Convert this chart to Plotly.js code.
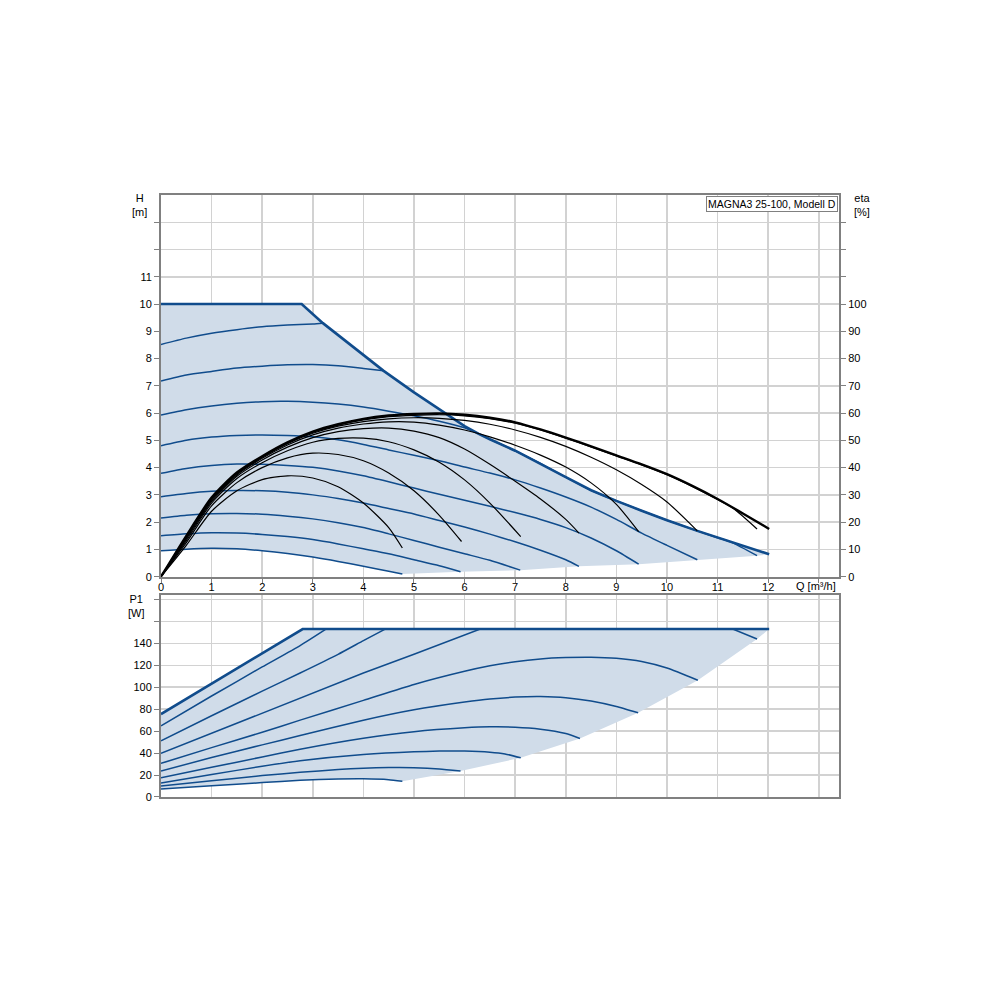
<!DOCTYPE html>
<html>
<head>
<meta charset="utf-8">
<script src="https://cdn.plot.ly/plotly-3.0.1.min.js"></script>
<style>html,body{margin:0;padding:0;background:#fff;}#chart{width:1000px;height:1000px;}</style>
</head>
<body>
<div id="chart"></div>
<script>
// ---------- Head diagram (H [m] vs Q [m3/h]) ----------
const envQ = [0, 2.78, 3.2, 3.6, 4.0, 4.4, 5.0, 5.5, 6.0, 6.28, 6.5, 7.0, 7.5, 8.0, 8.5, 9.0, 9.5, 10.0, 10.6, 11.0, 11.5, 12.02];
const envH = [10, 10, 9.3, 8.72, 8.15, 7.55, 6.76, 6.15, 5.52, 5.24, 5.04, 4.62, 4.15, 3.65, 3.17, 2.78, 2.42, 2.07, 1.68, 1.43, 1.12, 0.82];

const h1Q = [0, 0.5, 1, 1.5, 2, 2.5, 3, 3.5, 4, 4.5, 4.77];
const h1H = [0.95, 1.01, 1.04, 1.02, 0.95, 0.85, 0.72, 0.56, 0.38, 0.2, 0.1];
const h2Q = [0, 0.5, 1, 1.5, 2, 2.5, 3, 3.5, 4, 4.5, 5, 5.5, 5.92];
const h2H = [1.5, 1.57, 1.61, 1.6, 1.55, 1.47, 1.36, 1.2, 1.02, 0.84, 0.62, 0.4, 0.18];
const h3Q = [0, 0.5, 1, 1.5, 2, 2.5, 3, 3.5, 4, 4.5, 5, 5.5, 6, 6.5, 7.1];
const h3H = [2.15, 2.25, 2.31, 2.32, 2.29, 2.22, 2.12, 1.98, 1.8, 1.57, 1.33, 1.08, 0.84, 0.6, 0.24];
const h4Q = [0, 0.5, 1, 1.5, 2, 2.5, 3, 3.5, 4, 4.5, 5, 5.5, 6, 6.5, 7, 7.5, 8, 8.26];
const h4H = [2.93, 3.05, 3.13, 3.16, 3.15, 3.1, 3.0, 2.87, 2.7, 2.5, 2.3, 2.06, 1.82, 1.56, 1.28, 0.97, 0.62, 0.38];
const h5Q = [0, 0.5, 1, 1.5, 2, 2.5, 3, 3.5, 4, 4.5, 5, 5.5, 6, 6.5, 7, 7.5, 8, 8.5, 9, 9.44];
const h5H = [3.79, 3.97, 4.08, 4.13, 4.12, 4.08, 4.01, 3.88, 3.7, 3.48, 3.25, 3.02, 2.8, 2.58, 2.35, 2.1, 1.8, 1.42, 0.95, 0.46];
const h6Q = [0, 0.5, 1, 1.5, 2, 2.5, 3, 3.5, 4, 4.5, 5, 5.5, 6, 6.5, 7, 7.5, 8, 8.5, 9, 9.5, 10, 10.6];
const h6H = [4.8, 5.0, 5.12, 5.18, 5.2, 5.18, 5.13, 5.02, 4.85, 4.65, 4.45, 4.25, 4.02, 3.8, 3.55, 3.25, 2.92, 2.55, 2.1, 1.6, 1.15, 0.62];
const h7Q = [0, 0.5, 1, 1.5, 2, 2.5, 3, 3.5, 4, 4.5, 5, 5.5, 6, 6.28, 6.5, 7, 7.5, 8, 8.5, 9, 9.5, 10, 10.6, 11, 11.3, 11.78];
const h7H = [5.93, 6.12, 6.26, 6.36, 6.42, 6.43, 6.4, 6.33, 6.22, 6.07, 5.9, 5.7, 5.46, 5.24, 5.04, 4.62, 4.15, 3.65, 3.17, 2.78, 2.42, 2.07, 1.68, 1.43, 1.24, 0.77];
const h8Q = [0, 0.5, 1, 1.5, 2, 2.5, 3, 3.5, 4, 4.4];
const h8H = [7.18, 7.4, 7.53, 7.65, 7.72, 7.77, 7.78, 7.74, 7.64, 7.55];
const h9Q = [0, 0.5, 1, 1.5, 2, 2.5, 3, 3.2];
const h9H = [8.52, 8.75, 8.93, 9.06, 9.17, 9.23, 9.27, 9.3];

// lower limit of the operating area (end points of the speed curves)
const lowQ = [12.02, 11.78, 10.6, 9.44, 8.26, 7.1, 5.92, 4.77];
const lowH = [0.82, 0.77, 0.62, 0.46, 0.38, 0.24, 0.18, 0.1];

// ---------- Efficiency (eta [%]) ----------
const eAQ = [0, 0.5, 1, 1.5, 2, 2.5, 3, 3.5, 4, 4.5, 4.77];
const eA  = [0, 11.5, 24, 31.5, 35.6, 37, 36.2, 33, 27, 18, 10.5];
const eBQ = [0, 0.5, 1, 1.5, 2, 2.5, 3, 3.5, 4, 4.5, 5, 5.5, 5.94];
const eB  = [0, 12.5, 26, 34.5, 40, 43.6, 45.3, 44.8, 42.5, 38, 31.5, 22.5, 12.9];
const eCQ = [0, 0.5, 1, 1.5, 2, 2.5, 3, 3.5, 4, 4.5, 5, 5.5, 6, 6.5, 7.11];
const eC  = [0, 13.2, 27, 36, 41.8, 46.2, 49.3, 50.7, 50.8, 49.5, 46.5, 42, 35.5, 27, 14.7];
const eDQ = [0, 0.5, 1, 1.5, 2, 2.5, 3, 3.5, 4, 4.5, 5, 5.5, 6, 6.5, 7, 7.5, 8, 8.26];
const eD  = [0, 13.8, 27.6, 36.8, 42.8, 47.5, 51, 53.2, 54.3, 54.5, 53.4, 51, 46.8, 41.2, 35, 28.5, 21, 16];
const eEQ = [0, 0.5, 1, 1.5, 2, 2.5, 3, 3.5, 4, 4.5, 5, 5.5, 6, 6.5, 7, 7.5, 8, 8.5, 9, 9.44];
const eE  = [0, 14.2, 28.1, 37.3, 43.4, 48.3, 52, 54.5, 56, 56.8, 56.7, 55.6, 53.8, 51.3, 48.2, 44.6, 40.2, 34.4, 26.5, 16.5];
const eFQ = [0, 0.5, 1, 1.5, 2, 2.5, 3, 3.5, 4, 4.5, 5, 5.5, 6, 6.5, 7, 7.5, 8, 8.5, 9, 9.5, 10, 10.6];
const eF  = [0, 14.5, 28.5, 37.7, 43.8, 48.8, 52.6, 55.2, 56.9, 57.9, 58.3, 58.1, 57.3, 55.9, 53.8, 51.1, 47.8, 43.8, 39.2, 33.8, 27.4, 16.8];
const eGQ = [0, 0.5, 1, 1.5, 2, 2.5, 3, 3.5, 4, 4.5, 5, 5.5, 6, 6.5, 7, 7.5, 8, 8.5, 9, 9.5, 10, 10.5, 11, 11.3, 11.78];
const eG  = [0, 14.8, 28.8, 38, 44, 49.1, 53, 55.6, 57.5, 58.7, 59.2, 59.4, 59.0, 58.0, 56.3, 53.8, 50.8, 47.6, 44.3, 41.0, 37.4, 33.1, 28.3, 25.2, 17.5];
const eHQ = [0, 0.5, 1, 1.5, 2, 2.5, 3, 3.5, 4, 4.5, 5, 5.5, 6, 6.5, 7, 7.5, 8, 8.5, 9, 9.5, 10, 10.5, 11, 11.5, 12.02];
const eH  = [0, 15, 29, 38.2, 44.2, 49.3, 53.2, 55.9, 57.9, 59.1, 59.7, 59.9, 59.4, 58.3, 56.6, 54.0, 51.0, 47.8, 44.5, 41.2, 37.6, 33.3, 28.5, 23.2, 17.5];

// ---------- Power diagram (P1 [W]) ----------
const pEnvQ = [0, 2.8, 12.02];
const pEnv  = [75.5, 153, 153];
const p9Q = [0, 1, 2, 2.75, 3.26];
const p9  = [64.8, 92, 118.5, 138, 153];
const p8Q = [0, 1, 2, 2.75, 3.5, 4, 4.43];
const p8  = [51.2, 74, 96.5, 113, 130, 142.5, 153];
const p7Q = [0, 1, 2, 2.75, 4, 5, 6, 6.31, 11.3, 11.78];
const p7  = [39.7, 58, 76.5, 90.5, 113, 130, 147.8, 153, 153, 144];
const p6Q = [0, 1, 2, 2.75, 4, 5, 6, 6.5, 7, 7.5, 8, 8.5, 9, 9.5, 10, 10.61];
const p6  = [30.6, 45, 59, 70, 88, 102.5, 114.5, 119.5, 123.3, 125.8, 127, 127.3, 126.4, 123.5, 117.5, 106.4];
const p5Q = [0, 1, 2, 2.75, 4, 5, 6, 6.5, 7, 7.5, 8, 8.5, 9, 9.43];
const p5  = [23.6, 36, 47.5, 56, 70, 79.5, 86.5, 89.3, 91, 91.5, 90.5, 87.5, 82.5, 76.7];
const p4Q = [0, 1, 2, 2.75, 4, 5, 6, 6.5, 7, 7.5, 8, 8.28];
const p4  = [17.6, 27, 36.5, 43.5, 53.5, 59.5, 63, 63.9, 63.6, 61.8, 57.8, 53.3];
const p3Q = [0, 1, 2, 2.75, 4, 5, 5.5, 6, 6.5, 6.8, 7.11];
const p3  = [12.7, 20.5, 28, 33, 38.7, 41.2, 41.8, 41.8, 40.8, 39.2, 35.7];
const p2Q = [0, 1, 2, 2.75, 3.5, 4, 4.5, 5, 5.5, 5.92];
const p2  = [10, 14.8, 19.5, 22.5, 25, 26.2, 26.8, 26.7, 25.6, 23.6];
const p1Q = [0, 1, 2, 2.75, 3.5, 4, 4.5, 4.77];
const p1  = [7.3, 10.2, 13.1, 15.2, 16.4, 16.6, 15.8, 14.3];
const pLowQ = [12.02, 11.78, 10.61, 9.43, 8.28, 7.11, 5.92, 4.77];
const pLow  = [153, 144, 106.4, 76.7, 53.3, 35.7, 23.6, 14.3];

// ---------- tick labels ----------
const qTickVals = [0,1,2,3,4,5,6,7,8,9,10,11,12,13];
const qTickText = ['0','1','2','3','4','5','6','7','8','9','10','11','12',''];
const hTickVals = [0,1,2,3,4,5,6,7,8,9,10,11,12,13];
const hTickText = ['0','1','2','3','4','5','6','7','8','9','10','11','',''];
const etaTickVals = [0,10,20,30,40,50,60,70,80,90,100,110,120,130];
const etaTickText = ['0','10','20','30','40','50','60','70','80','90','100','','',''];
const pTickVals = [0,20,40,60,80,100,120,140,160,180];
const pTickText = ['0','20','40','60','80','100','120','140','',''];

// ---------- styling ----------
const FILL = 'rgb(208,220,233)';
const BLUE = '#104c8c';
const GRID = '#d2d2d2';
const AXL = '#808080';

const rev = a => a.slice().reverse();
const traces = [];

// Head operating area
traces.push({x: envQ.concat(lowQ, rev(h1Q)), y: envH.concat(lowH, rev(h1H)), xaxis:'x', yaxis:'y',
  type:'scatter', mode:'lines', fill:'toself', fillcolor:FILL, line:{width:0}, hoverinfo:'skip'});
[[h1Q,h1H],[h2Q,h2H],[h3Q,h3H],[h4Q,h4H],[h5Q,h5H],[h6Q,h6H],[h7Q,h7H],[h8Q,h8H],[h9Q,h9H]].forEach(c => {
  traces.push({x:c[0], y:c[1], xaxis:'x', yaxis:'y', type:'scatter', mode:'lines', line:{color:BLUE, width:1.5, shape:'spline', smoothing:0.6}});
});
traces.push({x:envQ, y:envH, xaxis:'x', yaxis:'y', type:'scatter', mode:'lines', line:{color:BLUE, width:2.6}});

// Efficiency curves
[[eAQ,eA],[eBQ,eB],[eCQ,eC],[eDQ,eD],[eEQ,eE],[eFQ,eF],[eGQ,eG]].forEach(c => {
  traces.push({x:c[0], y:c[1], xaxis:'x', yaxis:'y2', type:'scatter', mode:'lines', line:{color:'#000', width:1.2, shape:'spline', smoothing:0.7}});
});
traces.push({x:eHQ, y:eH, xaxis:'x', yaxis:'y2', type:'scatter', mode:'lines', line:{color:'#000', width:2.4, shape:'spline', smoothing:0.7}});

// Power area
traces.push({x: pEnvQ.concat(pLowQ, rev(p1Q)), y: pEnv.concat(pLow, rev(p1)), xaxis:'x2', yaxis:'y3',
  type:'scatter', mode:'lines', fill:'toself', fillcolor:FILL, line:{width:0}, hoverinfo:'skip'});
[[p1Q,p1],[p2Q,p2],[p3Q,p3],[p4Q,p4],[p5Q,p5],[p6Q,p6],[p8Q,p8],[p9Q,p9]].forEach(c => {
  traces.push({x:c[0], y:c[1], xaxis:'x2', yaxis:'y3', type:'scatter', mode:'lines', line:{color:BLUE, width:1.5, shape:'spline', smoothing:0.5}});
});
// curve that runs into the power limit: straight segments so it stays on the limit
traces.push({x:p7Q, y:p7, xaxis:'x2', yaxis:'y3', type:'scatter', mode:'lines', line:{color:BLUE, width:1.5}});
traces.push({x:pEnvQ, y:pEnv, xaxis:'x2', yaxis:'y3', type:'scatter', mode:'lines', line:{color:BLUE, width:2.6}});

// carrier for the Q tick-label axis (invisible)
traces.push({x:[0], y:[0], xaxis:'x3', yaxis:'y', type:'scatter', mode:'markers', marker:{opacity:0, size:1}, hoverinfo:'skip'});

const FONT = {family:'"Liberation Sans", Arial, sans-serif', size:11, color:'#000'};
const axBase = {showgrid:true, gridcolor:GRID, gridwidth:1.5, zeroline:false, showline:true, linecolor:AXL, linewidth:2,
  mirror:true, ticks:'outside', ticklen:5, tickcolor:AXL, tickfont:FONT, fixedrange:true};

const layout = {
  width:1000, height:1000, showlegend:false,
  paper_bgcolor:'#fff', plot_bgcolor:'#fff',
  margin:{l:161, r:161, t:195, b:203},
  font:FONT,
  xaxis: Object.assign({}, axBase, {domain:[0,1], anchor:'y', range:[0,13.4], tickmode:'array', tickvals:qTickVals, ticktext:qTickText, showticklabels:false, ticklen:4}),
  xaxis3: {overlaying:'x', anchor:'free', position:0.3625, side:'bottom', range:[0,13.4], tickmode:'array', tickvals:qTickVals, ticktext:qTickText,
    showgrid:false, zeroline:false, showline:false, ticks:'', tickfont:FONT, fixedrange:true},
  yaxis: Object.assign({}, axBase, {domain:[0.366,1], anchor:'x', range:[0,14], tickmode:'array', tickvals:hTickVals, ticktext:hTickText}),
  yaxis2: Object.assign({}, axBase, {overlaying:'y', side:'right', anchor:'x', range:[0,140], showgrid:false, mirror:false,
    tickmode:'array', tickvals:etaTickVals, ticktext:etaTickText}),
  xaxis2: Object.assign({}, axBase, {domain:[0,1], anchor:'y3', range:[0,13.4], tickmode:'array', tickvals:qTickVals, showticklabels:false, ticks:''}),
  yaxis3: Object.assign({}, axBase, {domain:[0,0.3355], anchor:'x2', range:[0,184], tickmode:'array', tickvals:pTickVals, ticktext:pTickText}),
  annotations:[
    {text:'MAGNA3 25-100, Modell D', xref:'paper', yref:'paper', x:1, y:1, xanchor:'right', yanchor:'top', xshift:-1, yshift:-1,
      showarrow:false, bgcolor:'#fff', bordercolor:AXL, borderwidth:1, borderpad:1, font:Object.assign({}, FONT, {size:10.5})},
    {text:'H<br>[m]', xref:'paper', yref:'paper', x:-0.031, y:0.9826, xanchor:'center', yanchor:'middle', showarrow:false, font:FONT},
    {text:'eta<br>[%]', xref:'paper', yref:'paper', x:1.034, y:0.9826, xanchor:'center', yanchor:'middle', showarrow:false, font:FONT},
    {text:'Q [m³/h]', xref:'paper', yref:'paper', x:0.966, y:0.3505, xanchor:'center', yanchor:'middle', showarrow:false, font:FONT},
    {text:'P1<br>[W]', xref:'paper', yref:'paper', x:-0.0354, y:0.317, xanchor:'center', yanchor:'middle', showarrow:false, font:FONT}
  ]
};

Plotly.newPlot('chart', traces, layout, {staticPlot:true, displayModeBar:false});
</script>
</body>
</html>
